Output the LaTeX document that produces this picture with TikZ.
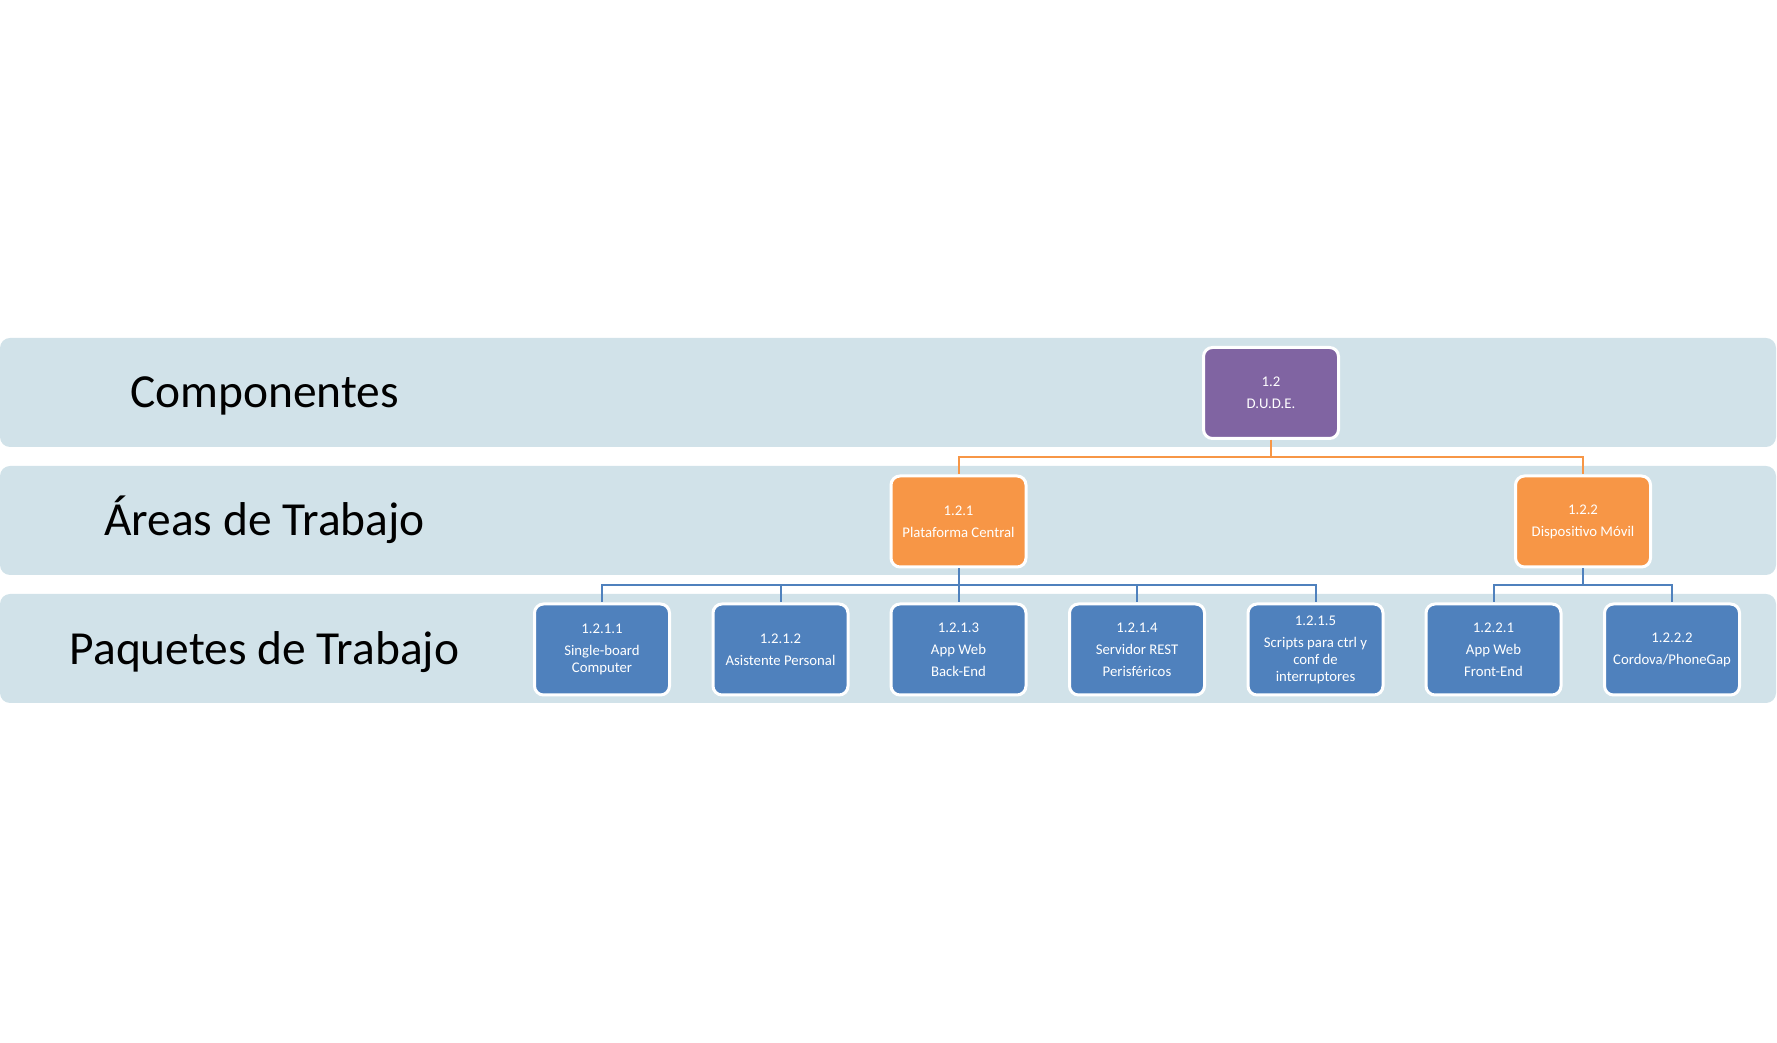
\documentclass[tikz,border=0pt]{standalone}
\usepackage{fontspec}
\setmainfont{Carlito}
\usepackage{tikz}
\usepackage{xcolor}
\usetikzlibrary{positioning,calc}

\definecolor{bandblue}{RGB}{209,226,233}
\definecolor{dudepurple}{RGB}{128,100,162}
\definecolor{areaorange}{RGB}{247,150,70}
\definecolor{wpblue}{RGB}{79,129,189}

\begin{document}
\begin{tikzpicture}[
    band/.style={fill=bandblue, draw=none, rounded corners=0.2cm},
    levellabel/.style={anchor=base, font=\fontsize{27}{31}\selectfont},
    wbsbox/.style={draw=white, line width=0.06cm, rounded corners=0.18cm,
        minimum width=2.7cm, minimum height=1.82cm, inner sep=1pt,
        align=center, text=white, font=\fontsize{8.4}{9.6}\selectfont},
    compbox/.style={wbsbox, fill=dudepurple},
    areabox/.style={wbsbox, fill=areaorange},
    pkgbox/.style={wbsbox, fill=wpblue},
    orangeline/.style={draw=areaorange, line width=0.04cm},
    blueline/.style={draw=wpblue, line width=0.04cm}
]
    \useasboundingbox (0,0) rectangle (35.54,20.84);

    % Level bands
    \fill[band] (0,11.90) rectangle (35.52,14.08);
    \fill[band] (0,9.34) rectangle (35.52,11.52);
    \fill[band] (0,6.78) rectangle (35.52,8.96);

    % Level labels
    \node[levellabel] (lcomp) at (5.29,12.68) {Componentes};
    \node[levellabel] (larea) at (5.29,10.13) {Áreas de Trabajo};
    \node[levellabel] (lpkg) at (5.29,7.55) {Paquetes de Trabajo};

    % Component and work areas
    \node[compbox] (dude) at (25.42,12.98) {1.2\\[3pt]D.U.D.E.};
    \node[areabox] (plat) at (19.17,10.41) {1.2.1\\[3pt]Plataforma Central};
    \node[areabox] (movil) at (31.66,10.41) {1.2.2\\[3pt]Dispositivo Móvil};

    % Work packages
    \node[pkgbox] (sbc) at (12.04,7.85) {1.2.1.1\\[3pt]Single-board\\Computer};
    \node[pkgbox] (asis) at (15.61,7.85) {1.2.1.2\\[3pt]Asistente Personal};
    \node[pkgbox] (back) at (19.17,7.85) {1.2.1.3\\[3pt]App Web\\[3pt]Back-End};
    \node[pkgbox] (rest) at (22.74,7.85) {1.2.1.4\\[3pt]Servidor REST\\[3pt]Perisféricos};
    \node[pkgbox] (scr) at (26.31,7.85) {1.2.1.5\\[3pt]Scripts para ctrl y\\conf de\\interruptores};
    \node[pkgbox] (front) at (29.87,7.85) {1.2.2.1\\[3pt]App Web\\[3pt]Front-End};
    \node[pkgbox] (cord) at (33.44,7.85) {1.2.2.2\\[3pt]Cordova/PhoneGap};

    % Bus levels
    \coordinate (busA) at (0,11.70);
    \coordinate (busB) at (0,9.14);

    % Connect nodes
    \draw[orangeline] (dude.south) -- (dude.south |- busA) -| (plat.north);
    \draw[orangeline] (dude.south) -- (dude.south |- busA) -| (movil.north);

    \draw[blueline] (plat.south) -- (plat.south |- busB) -| (sbc.north);
    \draw[blueline] (plat.south) -- (plat.south |- busB) -| (asis.north);
    \draw[blueline] (plat.south) -- (back.north);
    \draw[blueline] (plat.south) -- (plat.south |- busB) -| (rest.north);
    \draw[blueline] (plat.south) -- (plat.south |- busB) -| (scr.north);

    \draw[blueline] (movil.south) -- (movil.south |- busB) -| (front.north);
    \draw[blueline] (movil.south) -- (movil.south |- busB) -| (cord.north);
\end{tikzpicture}
\end{document}
